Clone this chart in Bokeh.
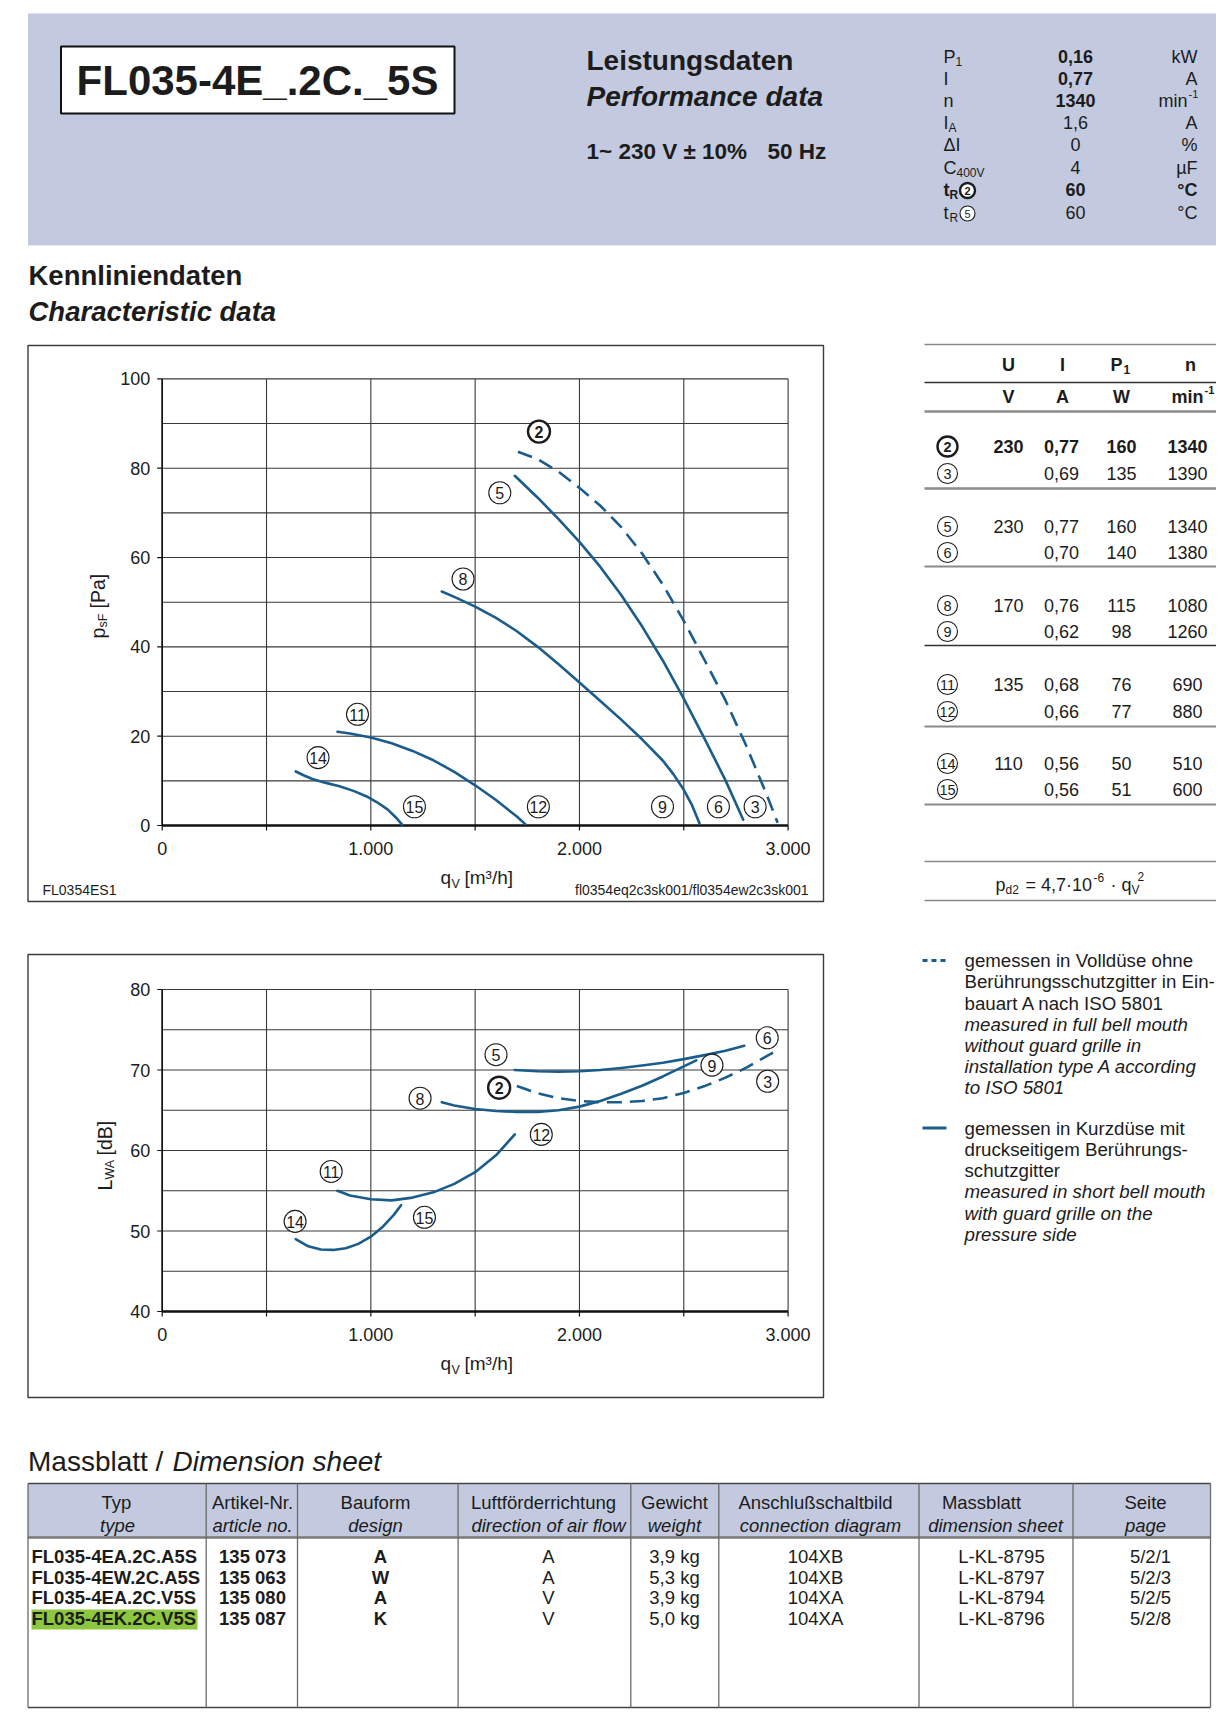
from bokeh.plotting import figure
from bokeh.models import Range1d
from bokeh.embed import file_html
from bokeh.resources import INLINE
from bokeh.core.properties import value
import math

# ------------------------------------------------------------------ data
model_code = "FL035-4E_.2C._5S"

perf_symbol = ["P", "I", "n", "I", "ΔI", "C", "t", "t"]
perf_symbol_sub = ["1", "", "", "A", "", "400V", "R", "R"]
perf_symbol_curve = ["", "", "", "", "", "", "2", "5"]
perf_value = ["0,16", "0,77", "1340", "1,6", "0", "4", "60", "60"]
perf_unit = ["kW", "A", "min", "A", "%", "µF", "°C", "°C"]
perf_unit_sup = ["", "", "-1", "", "", "", "", ""]
perf_label_bold = [False, False, False, False, False, False, True, False]
perf_value_bold = [True, True, True, False, False, False, True, False]

# characteristic curves  q_V [m3/h]  ->  p_sF [Pa]
q_2_3 = [1705, 1800, 1900, 2000, 2100, 2200, 2300, 2400, 2500, 2600, 2700, 2800, 2900, 2950]
p_2_3 = [83.7, 82.0, 79.2, 75.6, 71.6, 66.8, 60.9, 53.9, 45.8, 37.0, 28.0, 17.8, 6.6, 0.6]
q_5_6 = [1690, 1800, 1900, 2000, 2100, 2200, 2300, 2400, 2500, 2600, 2700, 2785]
p_5_6 = [78.3, 73.4, 68.6, 63.5, 57.9, 51.6, 44.6, 36.9, 28.4, 19.4, 10.1, 1.3]
q_8_9 = [1340, 1400, 1500, 1600, 1700, 1800, 1900, 2000, 2100, 2200, 2300, 2400, 2450,
         2500, 2540, 2575]
p_8_9 = [52.4, 51.2, 49.0, 46.5, 43.5, 40.0, 36.1, 32.0, 27.9, 23.7, 19.3, 14.5, 11.5,
         8.0, 4.5, 0.5]
q_11_12 = [840, 900, 1000, 1100, 1200, 1300, 1400, 1500, 1600, 1700, 1740]
p_11_12 = [21.0, 20.6, 19.7, 18.4, 16.7, 14.6, 12.0, 9.0, 5.7, 2.0, 0.3]
q_14_15 = [640, 680, 720, 780, 850, 920, 980, 1030, 1080, 1120, 1150]
p_14_15 = [12.1, 11.2, 10.4, 9.6, 8.8, 7.7, 6.5, 5.2, 3.6, 1.8, 0.2]

pressure_label_text = ["2", "5", "8", "11", "14", "15", "12", "9", "6", "3"]
pressure_label_q = [1806, 1618, 1442, 936, 747, 1209, 1803, 2398, 2666, 2842]
pressure_label_p = [88.2, 74.5, 55.2, 24.9, 15.2, 4.2, 4.2, 4.2, 4.2, 4.2]

# sound power curves  q_V [m3/h]  ->  L_WA [dB]
nq_2_3 = [1700, 1800, 1900, 2000, 2100, 2200, 2300, 2400, 2500, 2600, 2700, 2800, 2930]
L_2_3 = [68.0, 67.1, 66.5, 66.15, 66.0, 66.0, 66.15, 66.5, 67.15, 68.0, 69.05, 70.3, 72.2]
nq_5_6 = [1690, 1800, 1900, 2000, 2100, 2200, 2300, 2400, 2500, 2600, 2700, 2790]
L_5_6 = [70.0, 69.85, 69.8, 69.85, 70.0, 70.25, 70.55, 70.9, 71.35, 71.85, 72.4, 73.0]
nq_8_9 = [1340, 1400, 1500, 1600, 1700, 1800, 1900, 2000, 2100, 2200, 2300, 2400, 2500, 2560]
L_8_9 = [66.0, 65.6, 65.15, 64.9, 64.8, 64.8, 65.0, 65.45, 66.15, 67.05, 68.05, 69.2, 70.45, 71.2]
nq_11_12 = [840, 900, 1000, 1100, 1200, 1300, 1400, 1500, 1600, 1690]
L_11_12 = [55.0, 54.4, 53.95, 53.8, 54.15, 54.8, 55.85, 57.3, 59.4, 62.0]
nq_14_15 = [640, 700, 760, 820, 880, 940, 1000, 1060, 1110, 1145]
L_14_15 = [49.0, 48.1, 47.7, 47.65, 47.85, 48.4, 49.3, 50.6, 52.0, 53.2]

sound_label_text = ["5", "2", "8", "6", "9", "3", "12", "11", "14", "15"]
sound_label_q = [1600, 1615, 1236, 2900, 2635, 2902, 1817, 810, 637, 1257]
sound_label_L = [71.9, 67.8, 66.5, 74.0, 70.6, 68.6, 62.0, 57.4, 51.2, 51.7]

q_ticks = [0, 1000, 2000, 3000]
q_tick_labels = ["0", "1.000", "2.000", "3.000"]
q_grid = [0, 500, 1000, 1500, 2000, 2500, 3000]
p_ticks = [0, 20, 40, 60, 80, 100]
p_tick_labels = ["0", "20", "40", "60", "80", "100"]
p_grid = [10, 20, 30, 40, 50, 60, 70, 80, 90, 100]
L_ticks = [40, 50, 60, 70, 80]
L_tick_labels = ["40", "50", "60", "70", "80"]
L_grid = [45, 50, 55, 60, 65, 70, 75, 80]

# operating points table
op_curve = ["2", "3", "5", "6", "8", "9", "11", "12", "14", "15"]
op_U = ["230", "", "230", "", "170", "", "135", "", "110", ""]
op_I = ["0,77", "0,69", "0,77", "0,70", "0,76", "0,62", "0,68", "0,66", "0,56", "0,56"]
op_P = ["160", "135", "160", "140", "115", "98", "76", "77", "50", "51"]
op_n = ["1340", "1390", "1340", "1380", "1080", "1260", "690", "880", "510", "600"]

# dimension sheet table
dim_head_de = ["Typ", "Artikel-Nr.", "Bauform", "Luftförderrichtung", "Gewicht",
               "Anschlußschaltbild", "Massblatt", "Seite"]
dim_head_en = ["type", "article no.", "design", "direction of air flow", "weight",
               "connection diagram", "dimension sheet", "page"]
dim_type = ["FL035-4EA.2C.A5S", "FL035-4EW.2C.A5S", "FL035-4EA.2C.V5S", "FL035-4EK.2C.V5S"]
dim_article = ["135 073", "135 063", "135 080", "135 087"]
dim_design = ["A", "W", "A", "K"]
dim_airflow = ["A", "A", "V", "V"]
dim_weight = ["3,9 kg", "5,3 kg", "3,9 kg", "5,0 kg"]
dim_connection = ["104XB", "104XB", "104XA", "104XA"]
dim_sheet = ["L-KL-8795", "L-KL-8797", "L-KL-8794", "L-KL-8796"]
dim_page = ["5/2/1", "5/2/3", "5/2/5", "5/2/8"]

legend_dashed = ["gemessen in Volldüse ohne", "Berührungsschutzgitter in Ein-",
                 "bauart A nach ISO 5801", "measured in full bell mouth",
                 "without guard grille in", "installation type A according", "to ISO 5801"]
legend_solid = ["gemessen in Kurzdüse mit", "druckseitigem Berührungs-", "schutzgitter",
                "measured in short bell mouth", "with guard grille on the", "pressure side"]

# ------------------------------------------------------------------ styles / layout
SANS = "Liberation Sans"
NARROW = "Liberation Sans Narrow, Liberation Sans"
INK = "#1c1c1c"
CURVE = "#1a5c8c"
BAND = "#c3cadf"
GRIDC = "#3a3a3a"
RULE = "#8a8a8a"
X0, X1, Y0, Y1 = 0, 1216, 0, 1709

p = figure(width=X1 - X0, height=Y1 - Y0, x_range=Range1d(X0, X1), y_range=Range1d(Y1, Y0),
           x_axis_type=None, y_axis_type=None, output_backend="svg",
           toolbar_location=None, min_border=0, outline_line_color=None)
p.background_fill_color = "white"
p.border_fill_color = "white"


def T(x, y, s, size, style="normal", align="left", font=SANS, color=INK, angle=0,
      xr="default", yr="default", xo=0, yo=0, baseline="middle"):
    n = max(len(v) if isinstance(v, list) else 1 for v in (x, y, s))
    xs = x if isinstance(x, list) else [x] * n
    ys = y if isinstance(y, list) else [y] * n
    ss = s if isinstance(s, list) else [s] * n
    p.text(x=xs, y=ys, text=ss, text_font=value(font), text_font_size=f"{size}px",
           text_font_style=style, text_align=align, text_baseline=baseline,
           text_color=color, angle=angle, x_range_name=xr, y_range_name=yr,
           x_offset=xo, y_offset=yo)


def hline(x0, x1, y, color=RULE, w=1.5):
    p.segment(x0=[x0], y0=[y], x1=[x1], y1=[y], line_color=color, line_width=w)


def vline(x, y0, y1, color=RULE, w=1.5):
    p.segment(x0=[x], y0=[y0], x1=[x], y1=[y1], line_color=color, line_width=w)


def circ_label(x, y, s, size=22, fs=16, bold=False, xr="default", yr="default"):
    p.scatter(x=[x], y=[y], size=size, marker="circle", fill_color="white",
              line_color=INK, line_width=2.4 if bold else 1.1, x_range_name=xr, y_range_name=yr)
    T(x, y, s, fs, style="bold" if bold else "normal", align="center", font=NARROW,
      xr=xr, yr=yr, yo=0.5)


def curve(xs, ys, xr, yr, dash="solid"):
    p.line(xs, ys, line_color=CURVE, line_width=2.6, line_dash=dash, line_join="round",
           line_cap="round" if dash == "solid" else "butt", x_range_name=xr, y_range_name=yr)


def chart_ranges(px0, px1, v0, v1, py_top, py_bot, w0, w1):
    kx = (v1 - v0) / (px1 - px0)
    ky = (w1 - w0) / (py_bot - py_top)
    xr = Range1d(v0 - (px0 - X0) * kx, v0 + (X1 - px0) * kx)
    yr = Range1d(w0 - (Y1 - py_bot) * ky, w0 + (py_bot - Y0) * ky)
    return xr, yr, kx, ky


xr1, yr1, kx1, ky1 = chart_ranges(161.7, 787.6, 0, 3000, 378.4, 825.0, 0, 100)
xr2, yr2, kx2, ky2 = chart_ranges(161.7, 787.6, 0, 3000, 989.0, 1311.0, 40, 80)
p.extra_x_ranges = {"q1": xr1, "q2": xr2}
p.extra_y_ranges = {"p1": yr1, "L2": yr2}

# ------------------------------------------------------------------ header band
p.quad(left=[27.5], right=[1221], top=[13], bottom=[245], fill_color=BAND, line_color=None)
p.quad(left=[60.5], right=[454], top=[46], bottom=[113], fill_color="white",
       line_color="#111111", line_width=2)
T(257, 80, model_code, 42, style="bold", align="center")
T(586, 60, "Leistungsdaten", 28, style="bold")
T(586, 96, "Performance data", 28, style="bold italic")
T(586, 151, "1~ 230 V ± 10%", 22.5, style="bold")
T(767, 151, "50 Hz", 22.5, style="bold")

perf_rows_y = [56, 78, 100, 122, 144, 167, 189, 212]
sym_w = {"P": 12, "I": 5, "C": 13, "t": 6}
for i, yy in enumerate(perf_rows_y):
    st = "bold" if perf_label_bold[i] else "normal"
    T(943, yy, perf_symbol[i], 18, style=st)
    if perf_symbol_sub[i]:
        T(943 + sym_w.get(perf_symbol[i], 8), yy + 5, perf_symbol_sub[i], 12, style=st)
    if perf_symbol_curve[i]:
        circ_label(967, yy + 1, perf_symbol_curve[i], size=15, fs=11,
                   bold=perf_label_bold[i])
    vst = "bold" if perf_value_bold[i] else "normal"
    T(1075, yy, perf_value[i], 18, style=vst, align="center")
    ust = "bold" if perf_label_bold[i] else "normal"
    if perf_unit_sup[i]:
        T(1187, yy, perf_unit[i], 18, style=ust, align="right")
        T(1188, yy - 7, perf_unit_sup[i], 11, style=ust)
    else:
        T(1197, yy, perf_unit[i], 18, style=ust, align="right")

T(28, 275, "Kennliniendaten", 27.5, style="bold")
T(28, 311, "Characteristic data", 27.5, style="bold italic")


# ------------------------------------------------------------------ chart frames
def chart_frame(xr, yr, kx, ky, vmin, vmax, hgrid, yticks, ylabels, xlab_off):
    p.segment(x0=q_grid, y0=[vmin] * len(q_grid), x1=q_grid, y1=[vmax] * len(q_grid),
              line_color=GRIDC, line_width=1.1, x_range_name=xr, y_range_name=yr)
    p.segment(x0=[0] * len(hgrid), y0=hgrid, x1=[3000] * len(hgrid), y1=hgrid,
              line_color=GRIDC, line_width=1.1, x_range_name=xr, y_range_name=yr)
    p.segment(x0=[0, 0], y0=[vmin, vmin], x1=[3000, 0], y1=[vmin, vmax],
              line_color="#111111", line_width=[2.4, 1.6], x_range_name=xr, y_range_name=yr)
    tl = 5
    p.segment(x0=q_grid, y0=[vmin] * len(q_grid), x1=q_grid,
              y1=[vmin - tl * ky] * len(q_grid), line_color="#111111", line_width=1.2,
              x_range_name=xr, y_range_name=yr)
    p.segment(x0=[0] * len(yticks), y0=yticks, x1=[-tl * kx] * len(yticks), y1=yticks,
              line_color="#111111", line_width=1.2, x_range_name=xr, y_range_name=yr)
    T(q_ticks, [vmin] * len(q_ticks), q_tick_labels, 18, align="center",
      xr=xr, yr=yr, yo=xlab_off)
    T([0] * len(yticks), yticks, ylabels, 18, align="right", xr=xr, yr=yr, xo=-12)


# chart 1 : pressure
p.quad(left=[27.5], right=[823], top=[345], bottom=[901], fill_color=None,
       line_color="#3c3c3c", line_width=1.4)
chart_frame("q1", "p1", kx1, ky1, 0, 100, p_grid, p_ticks, p_tick_labels, 23)
curve(q_2_3, p_2_3, "q1", "p1", dash="15 8")
for qq, pp in [(q_5_6, p_5_6), (q_8_9, p_8_9), (q_11_12, p_11_12), (q_14_15, p_14_15)]:
    curve(qq, pp, "q1", "p1")
for s, qq, pp in zip(pressure_label_text, pressure_label_q, pressure_label_p):
    circ_label(qq, pp, s, bold=(s == "2"), xr="q1", yr="p1")

T(440, 877, "q", 19)
T(451, 883, "V", 12.5)
T(464, 877, "[m³/h]", 19)
T(97, 638, "p", 19.5, angle=math.pi / 2)
T(102, 627, "sF", 12.5, angle=math.pi / 2)
T(97, 608, "[Pa]", 19.5, angle=math.pi / 2)
T(42, 889, "FL0354ES1", 14)
T(808, 889, "fl0354eq2c3sk001/fl0354ew2c3sk001", 14, align="right")

# chart 2 : sound power
p.quad(left=[27.5], right=[823], top=[954], bottom=[1397], fill_color=None,
       line_color="#3c3c3c", line_width=1.4)
chart_frame("q2", "L2", kx2, ky2, 40, 80, L_grid, L_ticks, L_tick_labels, 23)
curve(nq_2_3, L_2_3, "q2", "L2", dash="15 8")
for qq, ll in [(nq_5_6, L_5_6), (nq_8_9, L_8_9), (nq_11_12, L_11_12), (nq_14_15, L_14_15)]:
    curve(qq, ll, "q2", "L2")
for s, qq, ll in zip(sound_label_text, sound_label_q, sound_label_L):
    circ_label(qq, ll, s, bold=(s == "2"), xr="q2", yr="L2")

T(440, 1363, "q", 19)
T(451, 1369, "V", 12.5)
T(464, 1363, "[m³/h]", 19)
T(104, 1190, "L", 19.5, angle=math.pi / 2)
T(109, 1179, "WA", 12.5, angle=math.pi / 2)
T(104, 1155, "[dB]", 19.5, angle=math.pi / 2)

# ------------------------------------------------------------------ operating point table
rule_y = [344, 382, 411, 488, 566, 645, 726, 804, 861, 900]
rule_w = [1.5, 1.4, 2.6, 2.6, 2.0, 1.6, 2.0, 2.0, 1.5, 1.5]
rule_c = [RULE, "#333333", RULE, RULE, RULE, "#333333", RULE, RULE, RULE, RULE]
for yy, ww, cc in zip(rule_y, rule_w, rule_c):
    hline(924, 1217, yy, color=cc, w=ww)

T(1008, 364, "U", 18, style="bold", align="center")
T(1062, 364, "I", 18, style="bold", align="center")
T(1116, 364, "P", 18, style="bold", align="center")
T(1123, 369, "1", 12, style="bold")
T(1190, 364, "n", 18, style="bold", align="center")
T(1008, 396, "V", 18, style="bold", align="center")
T(1062, 396, "A", 18, style="bold", align="center")
T(1121, 396, "W", 18, style="bold", align="center")
T(1203, 396, "min", 18, style="bold", align="right")
T(1204, 389, "-1", 11, style="bold")

op_rows_y = [446, 473, 526, 552, 605, 631, 684, 711, 763, 789]
for i, yy in enumerate(op_rows_y):
    st = "bold" if i == 0 else "normal"
    circ_label(947, yy, op_curve[i], size=20, fs=14.5, bold=(i == 0))
    if op_U[i]:
        T(1008, yy, op_U[i], 18, style=st, align="center")
    T(1061, yy, op_I[i], 18, style=st, align="center")
    T(1121, yy, op_P[i], 18, style=st, align="center")
    T(1187, yy, op_n[i], 18, style=st, align="center")

T(995, 884, "p", 18)
T(1005, 889, "d2", 12)
T(1025, 884, "= 4,7·10", 18)
T(1093, 877, "-6", 12)
T(1110, 884, "·", 18)
T(1121, 884, "q", 18)
T(1131, 889, "V", 12)
T(1137, 876, "2", 12)

# ------------------------------------------------------------------ legend
p.segment(x0=[922], y0=[960], x1=[946], y1=[960], line_color=CURVE, line_width=3,
          line_dash="5 4")
p.segment(x0=[922], y0=[1127.5], x1=[946], y1=[1127.5], line_color=CURVE, line_width=3)
leg1_y = [960, 981, 1003, 1024, 1045, 1066, 1087]
leg2_y = [1127.5, 1149, 1170, 1191, 1213, 1234]
for i, (s, yy) in enumerate(zip(legend_dashed, leg1_y)):
    T(964, yy, s, 18.7, style="italic" if i >= 3 else "normal")
for i, (s, yy) in enumerate(zip(legend_solid, leg2_y)):
    T(964, yy, s, 18.7, style="italic" if i >= 3 else "normal")

# ------------------------------------------------------------------ dimension sheet
T(27.5, 1461, "Massblatt /", 28)
T(172, 1461, "Dimension sheet", 28, style="italic")

TB = 1707
p.quad(left=[27.5], right=[1210], top=[1483], bottom=[1537], fill_color=BAND, line_color=None)
hline(27.5, 1210, 1483, color="#444444", w=1.5)
hline(27.5, 1210, 1537, color="#7a7a7a", w=2.6)
hline(27.5, 1210, TB, color="#444444", w=1.5)
for xx in [27.5, 205.7, 297, 457.6, 630.3, 718.3, 918.5, 1072.5, 1210]:
    vline(xx, 1483, TB, color="#6a6a6a", w=1.3)

head1_x = [116, 252, 375, 543, 674, 815, 981, 1145]
head2_x = [117, 252, 375, 548, 674, 820, 995, 1145]
T(head1_x, 1502, dim_head_de, 18.5, align="center")
T(head2_x, 1525, dim_head_en, 18.5, style="italic", align="center")

p.quad(left=[31], right=[197], top=[1609], bottom=[1629], fill_color="#8dc63f", line_color=None)
rows_y = [1556, 1577, 1597, 1618]
T(31, rows_y, dim_type, 18.5, style="bold")
T(252, rows_y, dim_article, 18.5, style="bold", align="center")
T(380, rows_y, dim_design, 18.5, style="bold", align="center")
T(548, rows_y, dim_airflow, 18.5, align="center")
T(674, rows_y, dim_weight, 18.5, align="center")
T(815, rows_y, dim_connection, 18.5, align="center")
T(1001, rows_y, dim_sheet, 18.5, align="center")
T(1150, rows_y, dim_page, 18.5, align="center")

open("out.html", "w").write(file_html(p, INLINE))
